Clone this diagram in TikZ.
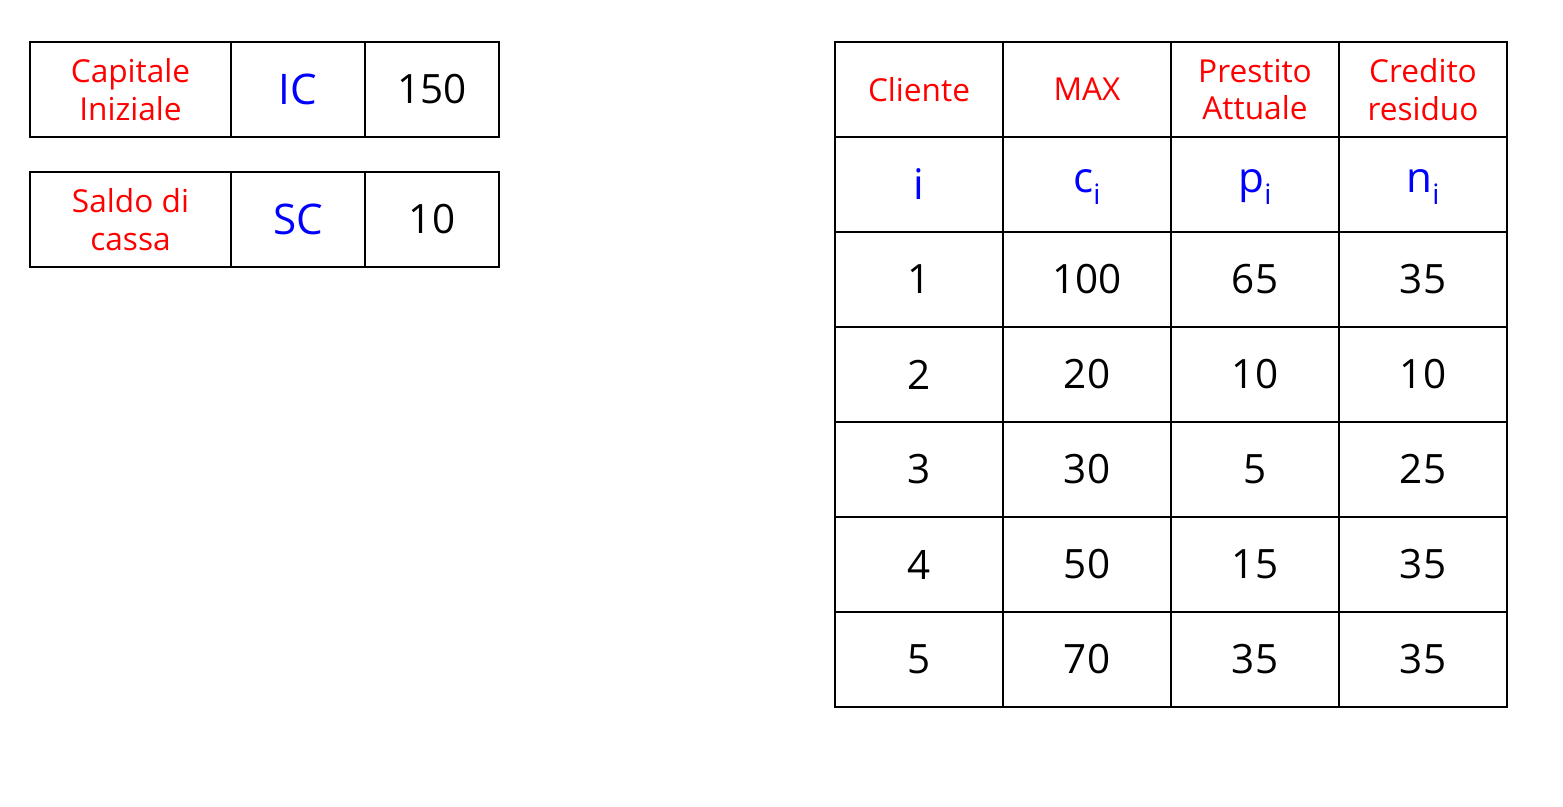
\documentclass[tikz,border=0pt]{standalone}
\usepackage{fontspec}
\setmainfont{Open Sans}
\newcommand{\subi}{\raisebox{-7pt}{\fontsize{16}{16}\selectfont i}}
\begin{document}
\begin{tikzpicture}[x=0.02cm,y=-0.02cm,
  etiqueta/.style={text=red,font=\fontsize{18}{21.5}\selectfont,align=center},
  simbolo/.style={text=blue,font=\fontsize{24}{28}\selectfont},
  valor/.style={text=black,font=\fontsize{23}{28}\selectfont},
  rejilla/.style={line width=0.85pt}]
\useasboundingbox (0,0) rectangle (1563,807);
% Tablas de la izquierda: capitale y saldo
\draw[rejilla] (30,42) rectangle (499,137) (231,42) -- (231,137) (365,42) -- (365,137);
\draw[rejilla] (30,172) rectangle (499,267) (231,172) -- (231,267) (365,172) -- (365,267);
\node[etiqueta] (capitale) at (130.5,89.5) {Capitale\\Iniziale};
\node[simbolo] (ic) at (298,89.5) {IC};
\node[valor] (capval) at (432,89.5) {150};
\node[etiqueta] (saldo) at (130.5,219.5) {Saldo di\\cassa};
\node[simbolo] (sc) at (298,219.5) {SC};
\node[valor] (saldoval) at (432,219.5) {10};
% Tabla de clientes
\draw[rejilla] (835,42) rectangle (1507,707);
\foreach \x in {1003,1171,1339}
  \draw[rejilla] (\x,42) -- (\x,707);
\foreach \y in {137,232,327,422,517,612}
  \draw[rejilla] (835,\y) -- (1507,\y);
\node[etiqueta] (cliente) at (919,89.5) {Cliente};
\node[etiqueta] (max) at (1087,89.5) {MAX};
\node[etiqueta] (prestito) at (1255,89.5) {Prestito\\Attuale};
\node[etiqueta] (credito) at (1423,89.5) {Credito\\residuo};
\node[simbolo] (symi) at (919,184.5) {i};
\node[simbolo] (symc) at (1087,187) {c\subi};
\node[simbolo] (symp) at (1255,187) {p\subi};
\node[simbolo] (symn) at (1423,187) {n\subi};
% Nota: una fila por cliente
\foreach \i/\c/\p/\n in {1/100/65/35,2/20/10/10,3/30/5/25,4/50/15/35,5/70/35/35}{
  \node[valor] (i\i) at (919,184.5+95*\i) {\i};
  \node[valor] (c\i) at (1087,184.5+95*\i) {\c};
  \node[valor] (p\i) at (1255,184.5+95*\i) {\p};
  \node[valor] (n\i) at (1423,184.5+95*\i) {\n};
}
\end{tikzpicture}
\end{document}
